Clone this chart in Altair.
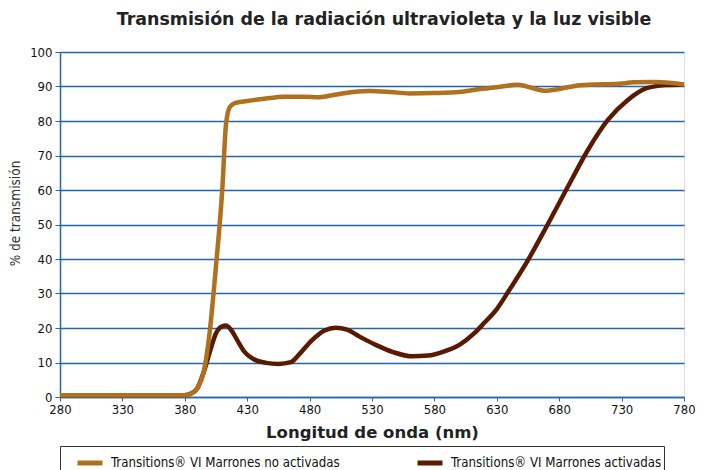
import altair as alt
import pandas as pd

label_o = "Transitions® VI Marrones no activadas"
label_b = "Transitions® VI Marrones activadas"

nm_o = [280, 300, 340, 380, 385, 390, 395, 400, 405, 410, 413, 416, 420, 430, 445,
        460, 475, 488, 500, 515, 528, 545, 560, 580, 600, 615, 630, 647, 658, 668,
        680, 695, 710, 725, 740, 756, 770, 780]
pct_o = [0.5, 0.5, 0.5, 0.5, 1.0, 2.5, 7, 19, 38, 60, 79, 84, 85.2, 85.8, 86.5,
         87.0, 87.0, 86.9, 87.6, 88.4, 88.7, 88.4, 88.0, 88.1, 88.4, 89.2, 89.8, 90.5, 89.6, 88.8,
         89.3, 90.3, 90.6, 90.7, 91.2, 91.3, 91.0, 90.6]

nm_b = [280, 340, 380, 385, 390, 395, 400, 405, 410, 413, 417, 422, 428, 435, 445,
        455, 465, 472, 482, 492, 501, 510, 520, 533, 547, 562, 575, 587, 600, 612,
        620, 630, 640, 655, 670, 687, 703, 719, 735, 750, 765, 780]
pct_b = [0.5, 0.5, 0.5, 1.0, 2.5, 7, 13, 18.5, 20.5, 20.7, 19.5, 16.5, 13, 11, 9.9,
         9.6, 10.1, 12.5, 16.5, 19.3, 20.1, 19.5, 17.5, 15.1, 13.0, 11.8, 12.0, 13.1, 15.1, 18.5,
         21.5, 25.5, 31, 39.7, 49.5, 61, 71.6, 80.3, 86.1, 89.5, 90.4, 90.6]

x_ticks = [280, 330, 380, 430, 480, 530, 580, 630, 680, 730, 780]
y_ticks = [0, 10, 20, 30, 40, 50, 60, 70, 80, 90, 100]

df_o = pd.DataFrame({"nm": nm_o, "pct": pct_o, "serie": label_o})
df_b = pd.DataFrame({"nm": nm_b, "pct": pct_b, "serie": label_b})

TICK_FONT = "DejaVu Sans Condensed"
BLUE = "#2166ae"

x = alt.X("nm:Q", scale=alt.Scale(domain=[280, 780], nice=False, zero=False),
          axis=alt.Axis(values=x_ticks, title="Longitud de onda (nm)", grid=False,
                        domainColor=BLUE, domainWidth=1.5, tickColor=BLUE, tickSize=4,
                        labelFont=TICK_FONT, labelFontSize=13, labelColor="#111",
                        labelPadding=2, labelFlush=False, labelBound=False, labelOverlap=False,
                        titleFont="DejaVu Sans", titleFontWeight="bold",
                        titleFontSize=16.5, titlePadding=8, titleColor="#222"))
y = alt.Y("pct:Q", scale=alt.Scale(domain=[0, 100], nice=False),
          axis=alt.Axis(values=y_ticks, title="% de transmisión", grid=True,
                        gridColor=BLUE, gridWidth=1.5, domainColor=BLUE, domainWidth=1.5,
                        tickColor=BLUE, tickSize=5, labelFont=TICK_FONT, labelFontSize=13,
                        labelColor="#111", labelPadding=3, labelFlush=False, labelOverlap=False,
                        titleFont=TICK_FONT,
                        titleFontWeight="normal", titleFontSize=13.5, titleColor="#333",
                        titlePadding=7, titleY=161))
color = alt.Color("serie:N",
                  scale=alt.Scale(domain=[label_o, label_b], range=["#b0701e", "#5a1a00"]),
                  legend=alt.Legend(title=None, orient="none", legendX=0, legendY=394,
                                    direction="horizontal", columnPadding=62, padding=2,
                                    symbolOffset=13,
                                    strokeColor="#333", fillColor="white",
                                    symbolType="stroke", symbolStrokeWidth=5, symbolSize=625,
                                    labelOffset=6, labelFont=TICK_FONT, labelFontSize=13.2,
                                    labelColor="#111", labelLimit=400))

brown = alt.Chart(df_b).mark_line(strokeWidth=4.5, interpolate="monotone").encode(x=x, y=y, color=color)
orange = alt.Chart(df_o).mark_line(strokeWidth=4.5, interpolate="monotone").encode(x=x, y=y, color=color)

chart = alt.layer(brown, orange).properties(
    width=624, height=345,
    title=alt.TitleParams("Transmisión de la radiación ultravioleta y la luz visible",
                          font="DejaVu Sans", fontSize=17.4, fontWeight="bold", color="#222",
                          anchor="middle", offset=18, dx=12),
    autosize=alt.AutoSizeParams(type="none"),
    padding={"left": 52, "top": 44, "right": 11, "bottom": 73},
).configure_view(stroke=BLUE, strokeWidth=1.5).configure(background="white")

chart.save("out.html", embed_options={"renderer": "svg", "actions": False})
